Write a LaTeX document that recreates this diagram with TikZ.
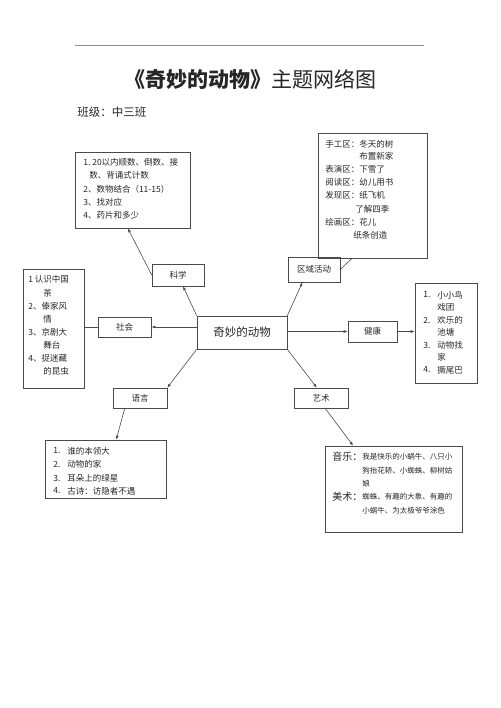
\documentclass[tikz,border=0pt]{standalone}
\usepackage{fontspec}
\newfontfamily\cjk{Noto Sans CJK SC}
\usetikzlibrary{arrows.meta}
\definecolor{linegray}{HTML}{4A4A4A}
\begin{document}
\begin{tikzpicture}[x=1pt,y=-1pt,line width=.6pt,
 every node/.style={font=\cjk\fontsize{8.5}{10}\selectfont,inner sep=0pt,text=black!85},
 box/.style={draw=linegray},
 txt/.style={anchor=west},
 arr/.style={-{Latex[length=4pt,width=3pt]},draw=linegray}]
\useasboundingbox (0,0) rectangle (500,708);
% heading
\draw[black!45] (75,45) -- (424,45);
\node[font=\cjk\fontsize{21}{24}\selectfont] (title) at (250,80) {{\bfseries《奇妙的动物》}主题网络图};
\node[txt,font=\cjk\fontsize{11.5}{13}\selectfont] (class) at (77,112) {班级：中三班};
% centre and topic boxes
\node[box,minimum width=90,minimum height=33,font=\cjk\fontsize{11.5}{13}\selectfont] (mid) at (242,332.5) {奇妙的动物};
\node[box,minimum width=52,minimum height=22] (sci) at (178,275) {科学};
\node[box,minimum width=52,minimum height=25] (reg) at (314,269.5) {区域活动};
\node[box,minimum width=53,minimum height=20] (soc) at (124.5,327) {社会};
\node[box,minimum width=49,minimum height=21] (hea) at (372.5,331.5) {健康};
\node[box,minimum width=54,minimum height=20] (lan) at (140,398) {语言};
\node[box,minimum width=54,minimum height=20] (art) at (321,398) {艺术};
% content boxes
\node[box,minimum width=115,minimum height=76] (sciT) at (132.5,190) {};
\node[box,minimum width=109,minimum height=125] (regT) at (372.5,195.5) {};
\node[box,minimum width=61,minimum height=119] (socT) at (53.5,328.5) {};
\node[box,minimum width=62,minimum height=100] (heaT) at (446,333) {};
\node[box,minimum width=121,minimum height=58] (lanT) at (105.5,469) {};
\node[box,minimum width=137,minimum height=86] (artT) at (393.5,489) {};
% texts
\foreach \n/\x/\y/\t in {s1/83/162/{1.\ 20以内顺数、倒数、接},s2/89/175/{数、背诵式计数},
 s3/83/189/{2、数物结合（11-15）},s4/83/202/{3、找对应},s5/83/215/{4、药片和多少}}
 \node[txt] (\n) at (\x,\y) {\t};
\foreach \n/\x/\y/\t in {r1/325/144/{手工区：冬天的树},r2/359/156/{布置新家},r3/325/169/{表演区：下雪了},
 r4/325/182/{阅读区：幼儿用书},r5/325/195/{发现区：纸飞机},r6/355/209/{了解四季},
 r7/325/222/{绘画区：花儿},r8/353/235/{纸条创造}}
 \node[txt] (\n) at (\x,\y) {\t};
\foreach \n/\x/\y/\t in {o1/28/279/{1 认识中国},o2/43/293/{茶},o3/28/306/{2、傣家风},o4/43/319/{情},
 o5/28/332/{3、京剧大},o6/43/345/{舞台},o7/28/358/{4、捉迷藏},o8/43/371/{的昆虫}}
 \node[txt] (\n) at (\x,\y) {\t};
\foreach \n/\x/\y/\t in {h1/423/295/{1.},h2/437/295/{小小鸟},h3/437/307/{戏团},h4/423/320/{2.},
 h5/437/320/{欢乐的},h6/437/332/{池塘},h7/423/345/{3.},h8/437/345/{动物找},h9/437/357/{家},
 h10/423/370/{4.},h11/437/370/{撅尾巴}}
 \node[txt] (\n) at (\x,\y) {\t};
\foreach \n/\x/\y/\t in {l1/53/451/{1.},l2/67/451/{谁的本领大},l3/53/464/{2.},l4/67/464/{动物的家},
 l5/53/478/{3.},l6/67/478/{耳朵上的绿星},l7/53/491/{4.},l8/67/491/{古诗：访隐者不遇}}
 \node[txt] (\n) at (\x,\y) {\t};
\foreach \n/\y/\t in {m1/457/音乐：,m2/497/美术：}
 \node[txt,font=\cjk\fontsize{10}{12}\selectfont] (\n) at (332,\y) {\t};
\foreach \n/\y/\t in {a1/457/{我是快乐的小蜗牛、八只小},a2/471/{狗抬花轿、小蜘蛛、柳树姑},
 a3/484/{娘},a4/497/{蜘蛛、有趣的大象、有趣的},a5/511/{小蜗牛、为太极爷爷涂色}}
 \node[txt,font=\cjk\fontsize{7.5}{9}\selectfont] (\n) at (362,\y) {\t};
% connectors
\draw[arr] (mid.north west) -- (sci.-66);
\draw[arr] (sci.west) -- (sciT.-97);
\draw[arr] (mid.north east) -- (reg.-132);
\draw[draw=linegray] (reg.east) -- (regT.-108);
\draw[arr] (soc.east -| mid.west) -- (soc.east);
\draw[draw=linegray] (soc.west) -- (soc.west -| socT.east);
\draw[arr] (hea.west -| mid.east) -- (hea.west);
\draw[arr] (hea.east) -- (hea.east -| heaT.west);
\draw[arr] (mid.south west) -- (lan.north east);
\draw[arr] (lan.-146) -- (lanT.70);
\draw[arr] (mid.south east) -- (art.112);
\draw[arr] (art.-68) -- (artT.133);
\end{tikzpicture}
\end{document}
